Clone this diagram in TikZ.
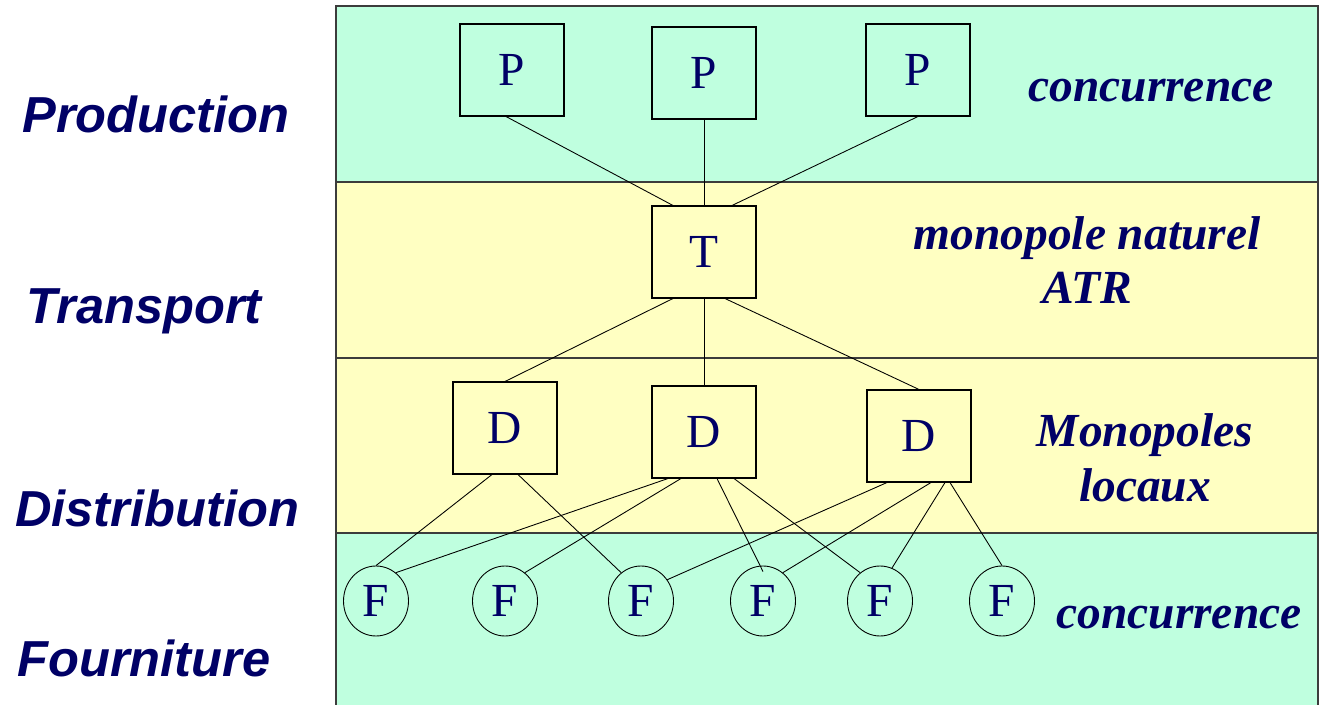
\documentclass[tikz,border=0pt]{standalone}
\usepackage{fontspec}
\setmainfont{Liberation Serif}
\newfontfamily\arialf{Liberation Sans}
\usetikzlibrary{calc,shapes.geometric}
\definecolor{bandgreen}{RGB}{191,255,223}
\definecolor{bandyellow}{RGB}{255,255,194}
\definecolor{navytext}{RGB}{0,0,102}
\definecolor{bordergray}{RGB}{60,60,60}
\tikzset{
  boxnode/.style={draw=black, line width=0.6pt, minimum width=2.08cm, minimum height=1.84cm, inner sep=0pt,
    text=navytext, font=\fontsize{27}{30}\selectfont},
  fnode/.style={draw=black, line width=0.5pt, ellipse, minimum width=1.3cm, minimum height=1.4cm, inner sep=0pt,
    text=navytext, font=\fontsize{27}{30}\selectfont},
  leftlabel/.style={text=navytext, font=\arialf\bfseries\itshape\fontsize{28.8}{32}\selectfont},
  rightlabel/.style={text=navytext, font=\bfseries\itshape\fontsize{27}{31}\selectfont, align=center},
  conn/.style={draw=black, line width=0.5pt},
  band/.style={draw=bordergray, line width=0.9pt}
}
\begin{document}
\begin{tikzpicture}[x=0.02cm, y=-0.02cm]
\useasboundingbox (0,0) rectangle (1322,705);
% bands
\fill[bandgreen] (336,6) rectangle (1318,182);
\fill[bandyellow] (336,182) rectangle (1318,533);
\fill[bandgreen] (336,533) rectangle (1318,706);
\draw[band] (336,706) -- (336,6) -- (1318,6) -- (1318,706);
\draw[band] (336,182) -- (1318,182);
\draw[band] (336,358) -- (1318,358);
\draw[band] (336,533) -- (1318,533);
% left labels
\node[leftlabel] (lprod) at (156,114) {Production};
\node[leftlabel] (ltrans) at (144,311) {Transport};
\node[leftlabel] (ldist) at (157,508) {Distribution};
\node[leftlabel] (lfour) at (144,658) {Fourniture};
% right labels
\node[rightlabel] (rconc1) at (1151,91) {concurrence};
\node[rightlabel] (rmono) at (1087,260) {monopole naturel\\ATR};
\node[rightlabel] (rloc) at (1145,458) {Monopoles\\locaux};
\node[rightlabel] (rconc2) at (1179,618) {concurrence};
% boxes
\node[boxnode] (P1) at (512,70) {P};
\node[boxnode] (P2) at (704,73) {P};
\node[boxnode] (P3) at (918,70) {P};
\node[boxnode] (T) at (704,252) {T};
\node[boxnode] (D1) at (505,428) {D};
\node[boxnode] (D2) at (704,432) {D};
\node[boxnode] (D3) at (919,436) {D};
% F ellipses
\node[fnode] (F1) at (376,601) {F};
\node[fnode] (F2) at (505,601) {F};
\node[fnode] (F3) at (641,601) {F};
\node[fnode] (F4) at (763,601) {F};
\node[fnode] (F5) at (880,601) {F};
\node[fnode] (F6) at (1002,601) {F};
% P -> T
\draw[conn] ($(P1.south)+(-6,0)$) -- ($(T.north)+(-31,0)$);
\draw[conn] (P2.south) -- (T.north);
\draw[conn] (P3.south) -- ($(T.north)+(28,0)$);
% T -> D
\draw[conn] ($(T.south)+(-31,0)$) -- (D1.north);
\draw[conn] (T.south) -- (D2.north);
\draw[conn] ($(T.south)+(21,0)$) -- (D3.north);
% D -> F
\draw[conn] ($(D1.south)+(-13,0)$) -- (F1.north);
\draw[conn] ($(D1.south)+(13,0)$) -- (F3.125);
\draw[conn] ($(D2.south)+(-36,0)$) -- (F1.55);
\draw[conn] ($(D2.south)+(-23,0)$) -- (F2.55);
\draw[conn] ($(D2.south)+(13,0)$) -- ($(F4.north)+(0,6)$);
\draw[conn] ($(D2.south)+(30,0)$) -- (F5.125);
\draw[conn] ($(D3.south)+(-32,0)$) -- (F3.39);
\draw[conn] ($(D3.south)+(12,0)$) -- (F4.55);
\draw[conn] ($(D3.south)+(26,0)$) -- (F5.70);
\draw[conn] ($(D3.south)+(31,0)$) -- (F6.north);
\end{tikzpicture}
\end{document}
